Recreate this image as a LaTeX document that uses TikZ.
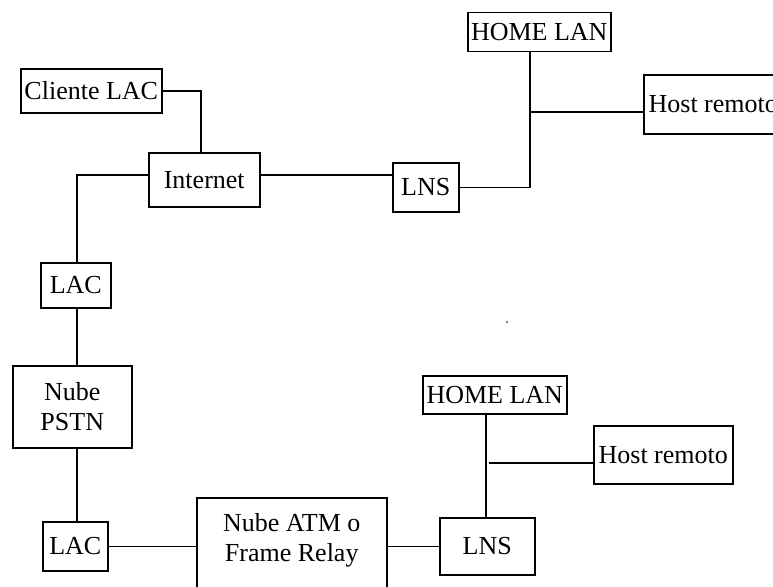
\documentclass[tikz,border=0pt]{standalone}
\usepackage{fontspec}
\setmainfont{Liberation Serif}
\usetikzlibrary{positioning}

\begin{document}
\begin{tikzpicture}[x=1pt, y=-1pt,
  blk/.style={draw, line width=1.5pt, inner sep=0pt, anchor=north west,
              font=\fontsize{26}{30}\selectfont, align=center},
  lnk/.style={line width=1.5pt}]

  \useasboundingbox (0,0) rectangle (773,586);

  % Upper path: client, Internet, LNS, home LAN
  \node[blk, minimum width=141pt, minimum height=44pt] (cli)   at (20,68)   {Cliente LAC};
  \node[blk, minimum width=111pt, minimum height=54pt] (inet)  at (148,152) {Internet};
  \node[blk, minimum width=70pt,  minimum height=45pt] (lacA)  at (40,262)  {LAC};
  \node[blk, minimum width=66pt,  minimum height=49pt] (lnsA)  at (392,162) {LNS};
  \node[blk, minimum width=143pt, minimum height=39pt] (homeA) at (467,12)  {HOME LAN};
  \node[blk, minimum width=139pt, minimum height=59pt] (hostA) at (643,74)  {Host remoto};

  % Lower path: PSTN, LAC, ATM / Frame Relay, LNS, home LAN
  \node[blk, minimum width=119pt, minimum height=82pt] (pstn)  at (12,365)  {Nube\\PSTN};
  \node[blk, minimum width=65pt,  minimum height=49pt] (lacB)  at (42,521)  {LAC};
  \node[blk, minimum width=190pt, minimum height=100pt, text depth=20pt] (atm) at (196,497) {Nube ATM o\\Frame Relay};
  \node[blk, minimum width=95pt,  minimum height=57pt] (lnsB)  at (439,517) {LNS};
  \node[blk, minimum width=144pt, minimum height=38pt] (homeB) at (422,375) {HOME LAN};
  \node[blk, minimum width=139pt, minimum height=58pt] (hostB) at (593,425) {Host remoto};

  \coordinate (inetW) at ([yshift=5pt]inet.west);
  \coordinate (inetE) at ([yshift=5pt]inet.east);
  \coordinate (jA) at (529,112);
  \coordinate (jB) at (489,463);

  % Links
  \draw[lnk] (cli.east) -| ([xshift=-3.5pt]inet.north);
  \draw[lnk] (inetW) -| ([xshift=1pt]lacA.north);
  \draw[lnk] (inetE) -- (inetE -| lnsA.west);
  \draw[lnk] (lnsA.east) -| ([xshift=-9.5pt]homeA.south);
  \draw[lnk] (jA) -- (jA -| hostA.west);

  \draw[lnk] ([xshift=1pt]lacA.south) -- ([xshift=1pt]lacA.south |- pstn.north);
  \draw[lnk] ([xshift=1pt]lacA.south |- pstn.south) -- ([xshift=1pt]lacA.south |- lacB.north);
  \draw[lnk] (lacB.east) -- (lacB.east -| atm.west);
  \draw[lnk] (atm.east |- lnsB.west) -- (lnsB.west);
  \draw[lnk] ([xshift=-1.5pt]lnsB.north) -- ([xshift=-1.5pt]lnsB.north |- homeB.south);
  \draw[lnk] (jB) -- (jB -| hostB.west);

  \fill (507,322) circle (0.8pt);

\end{tikzpicture}
\end{document}
